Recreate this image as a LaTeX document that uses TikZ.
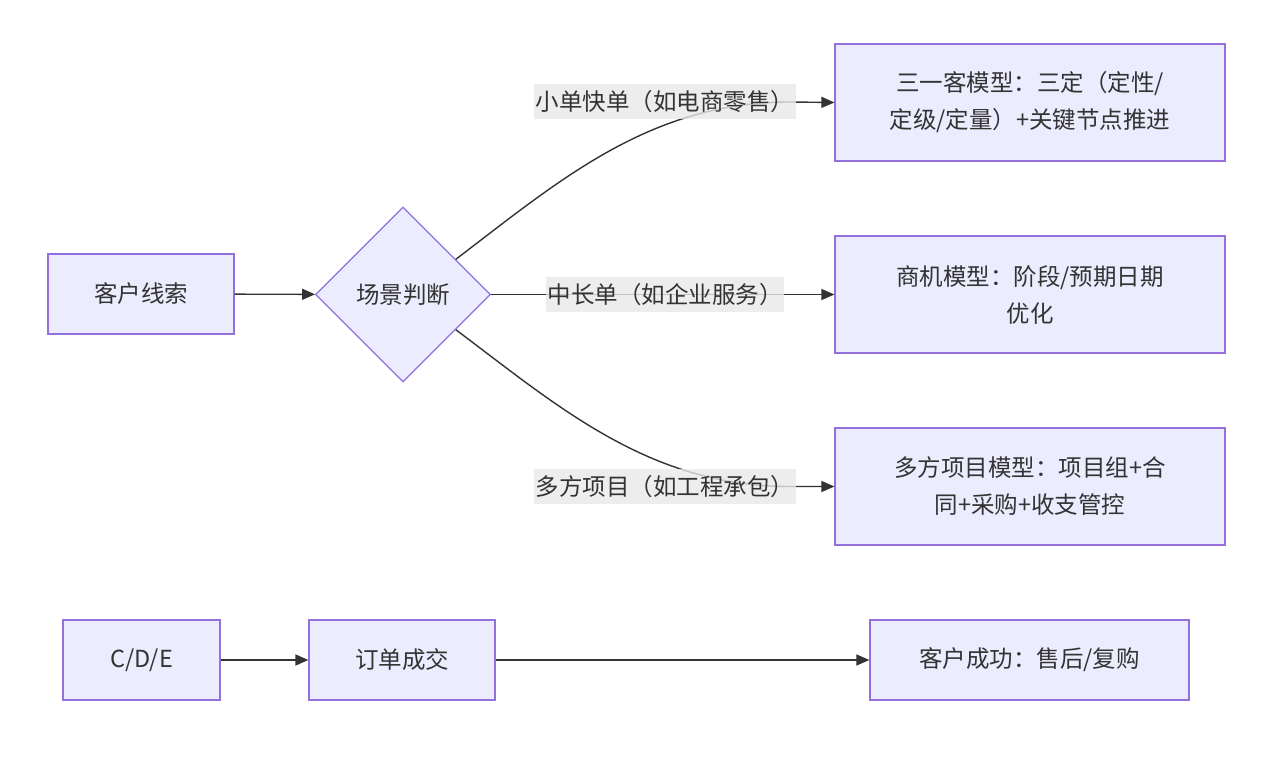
\documentclass[tikz,border=0pt]{standalone}
\usepackage{fontspec}
\setmainfont{Noto Sans CJK SC}
\usepackage{tikz}
\usetikzlibrary{shapes.geometric,arrows.meta,calc}
\definecolor{nodefill}{HTML}{ECECFF}
\definecolor{nodeline}{HTML}{9370DB}
\definecolor{edgeline}{HTML}{333333}
\definecolor{labelfill}{HTML}{E8E8E8}
\tikzset{
 box/.style={draw=nodeline,fill=nodefill,line width=1.2pt,text=edgeline,align=center,font=\fontsize{23.5}{37}\selectfont,inner sep=0pt},
 decision/.style={box,diamond,minimum width=175pt,minimum height=175pt},
 edge/.style={draw=edgeline,line width=1.4pt,-{Triangle[length=13pt,width=11pt]}},
 edgelabel/.style={fill=labelfill,fill opacity=0.8,text opacity=1,text=edgeline,font=\fontsize{23.5}{30}\selectfont,inner sep=1.5pt,minimum height=35pt}
}
\begin{document}
\begin{tikzpicture}[x=1pt,y=-1pt]
 \useasboundingbox (0,0) rectangle (1280,778);
 \node[box,minimum width=186pt,minimum height=80pt] (lead) at (141,294) {客户线索};
 \node[decision] (judge) at (403,294.5) {场景判断};
 \node[box,minimum width=390pt,minimum height=117pt] (small) at (1030,102.5) {三一客模型：三定（定性/\\定级/定量）+关键节点推进};
 \node[box,minimum width=390pt,minimum height=117pt] (mid) at (1030,294.5) {商机模型：阶段/预期日期\\优化};
 \node[box,minimum width=390pt,minimum height=117pt] (multi) at (1030,486.5) {多方项目模型：项目组+合\\同+采购+收支管控};
 \node[box,minimum width=157pt,minimum height=80pt] (cde) at (141.5,660) {C/D/E};
 \node[box,minimum width=186pt,minimum height=80pt] (order) at (402,660) {订单成交};
 \node[box,minimum width=319pt,minimum height=80pt] (success) at (1029.5,660) {客户成功：售后/复购};
 \draw[edge] (lead) -- (judge);
 \draw[edge] ($(judge.north)!0.6!(judge.east)$) .. controls (560,180) and (650,102) .. (790,102) -- (small.west);
 \draw[edge] (judge.east) -- (mid.west);
 \draw[edge] ($(judge.south)!0.6!(judge.east)$) .. controls (560,408) and (650,486.5) .. (790,486.5) -- (multi.west);
 \draw[edge] (cde) -- (order);
 \draw[edge] (order) -- (success);
 \node[edgelabel] (lblsmall) at (665,102) {小单快单（如电商零售）};
 \node[edgelabel] (lblmid) at (665,294.5) {中长单（如企业服务）};
 \node[edgelabel] (lblmulti) at (665,486.5) {多方项目（如工程承包）};
\end{tikzpicture}
\end{document}
